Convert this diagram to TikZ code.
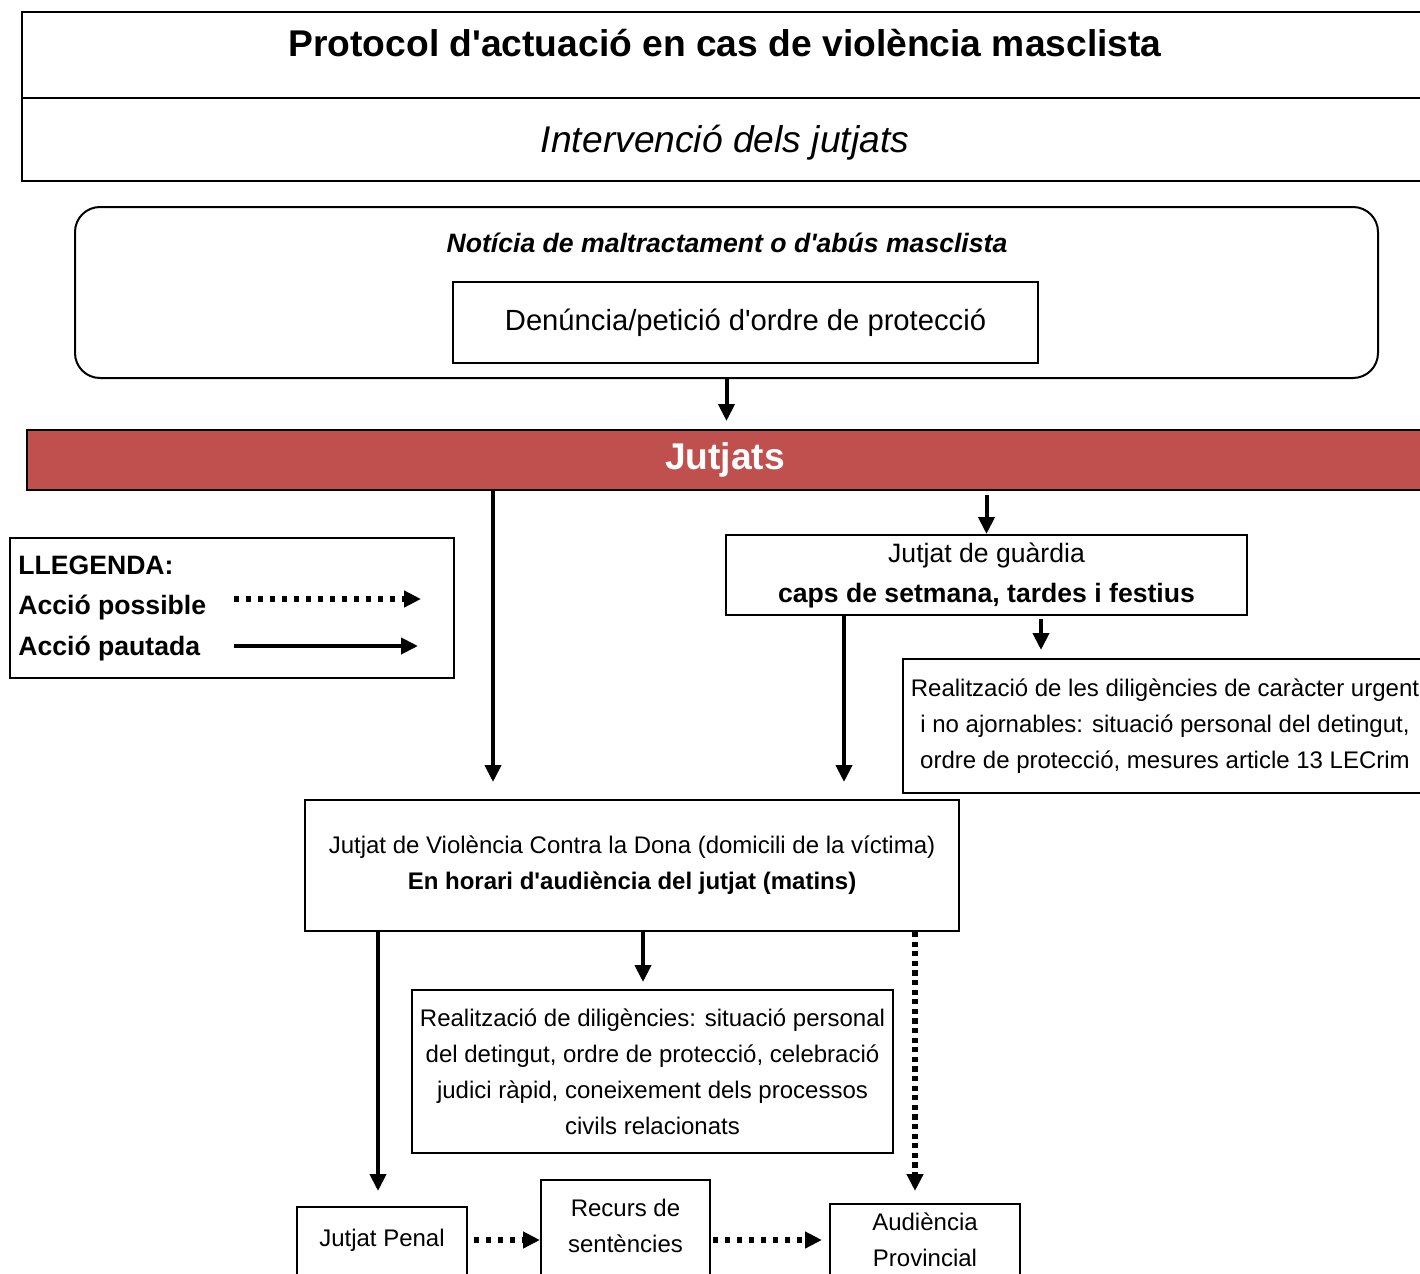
\documentclass[tikz,border=0pt]{standalone}
\usepackage{fontspec}
\setmainfont{Liberation Sans}[Ligatures=TeXOff]
\usetikzlibrary{positioning,arrows.meta}
\definecolor{jutred}{HTML}{C0504D}
\tikzset{>={Triangle[length=8.5pt,width=8pt]}}

\begin{document}
\begin{tikzpicture}[x=0.5pt,y=-0.5pt,
  box/.style={draw,line width=1pt,fill=white,align=center,inner sep=0pt,font=\fontsize{12}{18}\selectfont},
  txt/.style={align=center,inner sep=0pt,font=\fontsize{12}{18}\selectfont},
  legtxt/.style={anchor=base west,inner sep=0pt,font=\bfseries\fontsize{13.3}{16}\selectfont},
  flow/.style={->,line width=2pt},
  maybe/.style={->,line width=2.6pt,dash pattern=on 2.6pt off 3.4pt}]
\useasboundingbox (0,0) rectangle (1420,1274);
\clip (0,0) rectangle (1420,1274);

% capcalera
\node[box,line width=1.2pt,minimum width=703pt,minimum height=43pt] (head) at (725,55) {};
\node[anchor=base,font=\bfseries\fontsize{18.6}{22}\selectfont] (title) at (725,56.5) {Protocol d'actuació en cas de violència masclista};
\node[box,line width=1.2pt,minimum width=703pt,minimum height=41.5pt] (sub) at (725,139.5) {};
\node[anchor=base,inner sep=0pt,font=\itshape\fontsize{18.6}{22}\selectfont] (subtxt) at (725,152.5) {Intervenció dels jutjats};

% avis
\node[draw,line width=1pt,rounded corners=12.5pt,minimum width=651.5pt,minimum height=85.5pt] (avis) at (726.5,292.5) {};
\node[anchor=base,inner sep=0pt,font=\bfseries\itshape\fontsize{13.3}{16}\selectfont] (noticia) at (727,252.5) {Notícia de maltractament o d'abús masclista};
\node[box,minimum width=292.5pt,minimum height=40.5pt,font=\fontsize{14.6}{18}\selectfont] (denuncia) at (745.5,322.5) {Denúncia/petició d'ordre de protecció};

% jutjats
\node[draw,line width=1pt,fill=jutred,text=white,minimum width=698pt,minimum height=30pt,font=\bfseries\fontsize{18.6}{22}\selectfont] (jutjats) at (725,460) {Jutjats};
\draw[flow,shorten >=4pt] (avis.south) -- (avis.south |- jutjats.north);

% llegenda
\node[box,minimum width=222pt,minimum height=70pt] (llegenda) at (232,608) {};
\node[legtxt] (lltit) at (18,574) {LLEGENDA:};
\node[legtxt] (llpos) at (18,614) {Acció possible};
\node[legtxt] (llpau) at (18,655) {Acció pautada};
\coordinate (pos1) at (234,599);
\coordinate (pos2) at (421,599);
\coordinate (pau1) at (234,646);
\coordinate (pau2) at (418,646);
\draw[maybe] (pos1) -- (pos2);
\draw[flow] (pau1) -- (pau2);

% jutjat de guardia
\node[box,minimum width=260.5pt,minimum height=40pt,font=\fontsize{13.3}{20}\selectfont] (guardia) at (986.5,575) {Jutjat de guàrdia\\\textbf{caps de setmana, tardes i festius}};
\draw[flow,shorten <=2pt] (guardia.north |- jutjats.south) -- (guardia.north);

\node[box,minimum width=262pt,minimum height=67pt] (urgent) at (1165,726) {Realització de les diligències de caràcter urgent\\i no ajornables: situació personal del detingut,\\ordre de protecció, mesures article 13 LECrim};
\coordinate (urg) at ([xshift=-62pt]urgent.north);
\draw[flow,shorten <=1.5pt,shorten >=4pt] (urg |- guardia.south) -- (urg);

% violencia contra la dona
\node[box,minimum width=327pt,minimum height=65.5pt] (jvcd) at (632,865.5) {Jutjat de Violència Contra la Dona (domicili de la víctima)\\\textbf{En horari d'audiència del jutjat (matins)}};
\coordinate (jv1) at ([xshift=-69.5pt]jvcd.north);
\coordinate (jv2) at ([xshift=106pt]jvcd.north);
\draw[flow,shorten >=8.5pt] (jv1 |- jutjats.south) -- (jv1);
\draw[flow,shorten >=8.5pt] (jv2 |- guardia.south) -- (jv2);

\node[box,minimum width=240.5pt,minimum height=81.5pt] (dilig) at (652.5,1071.5) {Realització de diligències: situació personal\\del detingut, ordre de protecció, celebració\\judici ràpid, coneixement dels processos\\civils relacionats};
\coordinate (dg) at ([xshift=-4.75pt]dilig.north);
\draw[flow,shorten >=3.5pt] (dg |- jvcd.south) -- (dg);

% sortides
\node[box,minimum width=85pt,minimum height=45pt] (penal) at (382,1252) {};
\node[txt] (penaltxt) at (382,1240) {Jutjat Penal};
\node[box,minimum width=84.5pt,minimum height=55pt] (recurs) at (625.5,1235) {};
\node[txt] (recurstxt) at (625.5,1225.5) {Recurs de\\sentències};
\node[box,minimum width=95pt,minimum height=45pt] (audi) at (925,1249) {};
\node[txt] (auditxt) at (925,1240) {Audiència\\Provincial};

\coordinate (pn) at ([xshift=-2pt]penal.north);
\coordinate (au) at ([xshift=-5pt]audi.north);
\draw[flow,shorten >=7.5pt] (pn |- jvcd.south) -- (pn);
\draw[maybe,dash pattern=on 2.6pt off 2.2pt,shorten >=6pt] (au |- jvcd.south) -- (au);
\draw[maybe,shorten <=3pt] (penal.east |- penaltxt) -- (recurs.west |- penaltxt);
\draw[maybe,shorten <=1pt,shorten >=3.5pt] (recurs.east |- penaltxt) -- (audi.west |- penaltxt);
\end{tikzpicture}
\end{document}
